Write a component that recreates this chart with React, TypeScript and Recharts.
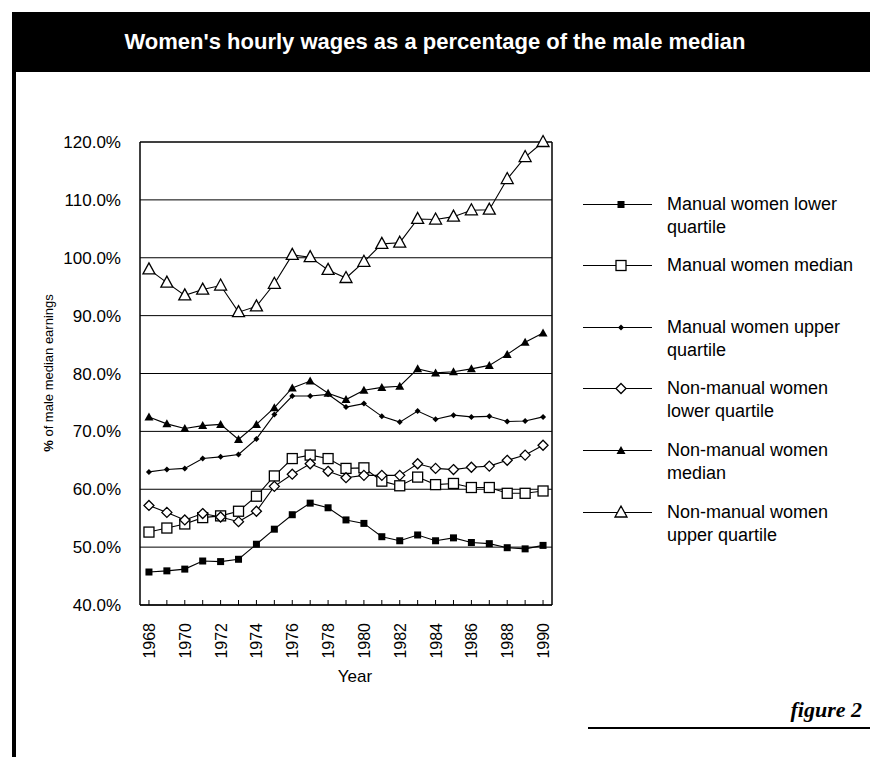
import { CartesianGrid, Line, LineChart, ReferenceLine, XAxis, YAxis } from "recharts";

const years = [
  1968, 1969, 1970, 1971, 1972, 1973, 1974, 1975, 1976, 1977, 1978, 1979, 1980, 1981, 1982, 1983,
  1984, 1985, 1986, 1987, 1988, 1989, 1990,
];
const manualLower = [
  45.7, 45.9, 46.2, 47.6, 47.5, 47.9, 50.5, 53.1, 55.6, 57.6, 56.8, 54.7, 54.1, 51.8, 51.1, 52.1,
  51.1, 51.6, 50.8, 50.6, 49.9, 49.7, 50.3,
];
const manualMedian = [
  52.6, 53.3, 54.0, 55.1, 55.4, 56.2, 58.8, 62.3, 65.3, 65.9, 65.3, 63.6, 63.7, 61.4, 60.6, 62.1,
  60.8, 61.0, 60.3, 60.3, 59.3, 59.3, 59.7,
];
const manualUpper = [
  63.0, 63.4, 63.6, 65.3, 65.6, 66.0, 68.7, 72.9, 76.1, 76.1, 76.4, 74.2, 74.8, 72.6, 71.6, 73.5,
  72.1, 72.8, 72.5, 72.6, 71.7, 71.8, 72.5,
];
const nonManualLower = [
  57.2, 56.0, 54.7, 55.8, 55.2, 54.4, 56.2, 60.5, 62.6, 64.4, 63.1, 62.0, 62.4, 62.4, 62.4, 64.4,
  63.6, 63.4, 63.8, 64.0, 65.0, 65.9, 67.6,
];
const nonManualMedian = [
  72.5, 71.3, 70.5, 71.0, 71.2, 68.6, 71.2, 74.1, 77.5, 78.7, 76.6, 75.5, 77.1, 77.6, 77.8, 80.8,
  80.1, 80.3, 80.8, 81.4, 83.3, 85.4, 87.0,
];
const nonManualUpper = [
  98.0, 95.7, 93.5, 94.5, 95.2, 90.6, 91.6, 95.5, 100.5, 100.1, 97.9, 96.5, 99.3, 102.4, 102.6,
  106.7, 106.6, 107.1, 108.2, 108.3, 113.6, 117.4, 120.0,
];
const yTicks = [40, 50, 60, 70, 80, 90, 100, 110, 120];

const FONT = '"Liberation Sans", Arial, sans-serif';

type MarkerKind = "filledSquare" | "openSquare" | "dot" | "openDiamond" | "filledTriangle" | "openTriangle";

const series: { key: string; label: string[]; marker: MarkerKind; values: number[] }[] = [
  { key: "ml", label: ["Manual women lower", "quartile"], marker: "filledSquare", values: manualLower },
  { key: "mm", label: ["Manual women median"], marker: "openSquare", values: manualMedian },
  { key: "mu", label: ["Manual women upper", "quartile"], marker: "dot", values: manualUpper },
  { key: "nl", label: ["Non-manual women", "lower quartile"], marker: "openDiamond", values: nonManualLower },
  { key: "nm", label: ["Non-manual women", "median"], marker: "filledTriangle", values: nonManualMedian },
  { key: "nu", label: ["Non-manual women", "upper quartile"], marker: "openTriangle", values: nonManualUpper },
];

const data = years.map((year, i) => {
  const row: Record<string, number> = { year };
  for (const s of series) row[s.key] = s.values[i];
  return row;
});

function Marker({ kind, cx, cy }: { kind: MarkerKind; cx: number; cy: number }) {
  switch (kind) {
    case "filledSquare":
      return <rect x={cx - 3.5} y={cy - 3.5} width={7} height={7} fill="#000" />;
    case "openSquare":
      return <rect x={cx - 5} y={cy - 5} width={10} height={10} fill="#fff" stroke="#000" strokeWidth={1.3} />;
    case "dot":
      return <path d={`M${cx},${cy - 3}L${cx + 3},${cy}L${cx},${cy + 3}L${cx - 3},${cy}Z`} fill="#000" />;
    case "openDiamond":
      return (
        <path
          d={`M${cx},${cy - 5}L${cx + 5},${cy}L${cx},${cy + 5}L${cx - 5},${cy}Z`}
          fill="#fff"
          stroke="#000"
          strokeWidth={1.3}
        />
      );
    case "filledTriangle":
      return <path d={`M${cx},${cy - 4.5}L${cx + 4.5},${cy + 3.5}L${cx - 4.5},${cy + 3.5}Z`} fill="#000" />;
    case "openTriangle":
      return (
        <path
          d={`M${cx},${cy - 6.5}L${cx + 6},${cy + 4.5}L${cx - 6},${cy + 4.5}Z`}
          fill="#fff"
          stroke="#000"
          strokeWidth={1.3}
        />
      );
  }
}

function YearTick({ x, y, payload }: any) {
  const year = payload.value as number;
  return (
    <g>
      <line x1={x} x2={x} y1={y} y2={y - 5} stroke="#000" strokeWidth={1} />
      {year % 2 === 0 && (
        <text
          transform={`translate(${x + 6},${y + 18}) rotate(-90)`}
          textAnchor="end"
          fontSize={16}
          fontFamily={FONT}
          fill="#000"
        >
          {year}
        </text>
      )}
    </g>
  );
}

function LegendItem({ label, marker, top }: { label: string[]; marker: MarkerKind; top: number }) {
  return (
    <div style={{ position: "absolute", left: 581, top: top - 11.5, display: "flex" }}>
      <svg width={80} height={23} style={{ flexShrink: 0 }}>
        <line x1={2} x2={71} y1={11.5} y2={11.5} stroke="#000" strokeWidth={1.2} />
        <Marker kind={marker} cx={40} cy={11.5} />
      </svg>
      <div style={{ marginLeft: 6, fontSize: 18, lineHeight: "23px" }}>
        {label.map((l) => (
          <div key={l}>{l}</div>
        ))}
      </div>
    </div>
  );
}

const legendTops = [204, 265.6, 327.2, 388.8, 450.4, 512];

export default function App() {
  return (
    <div
      style={{
        position: "absolute",
        left: 0,
        top: 0,
        width: 870,
        height: 757,
        background: "#fff",
        fontFamily: FONT,
        color: "#000",
        overflow: "hidden",
      }}
    >
      <div style={{ position: "absolute", left: 12, top: 12, width: 4, height: 745, background: "#000" }} />
      <div
        style={{
          position: "absolute",
          left: 12,
          top: 12,
          width: 846,
          paddingRight: 12,
          height: 60,
          background: "#000",
          color: "#fff",
          fontWeight: 700,
          fontSize: 22,
          display: "flex",
          alignItems: "center",
          justifyContent: "center",
        }}
      >
        Women's hourly wages as a percentage of the male median
      </div>

      <div style={{ position: "absolute", left: 0, top: 0 }}>
        <LineChart width={560} height={700} data={data} margin={{ top: 142, right: 8, left: 0, bottom: 35 }}>
          <CartesianGrid vertical={false} stroke="#000" strokeWidth={1} />
          <XAxis
            dataKey="year"
            type="number"
            domain={[1967.5, 1990.5]}
            ticks={years}
            interval={0}
            height={60}
            tickLine={false}
            tickSize={0}
            tickMargin={0}
            axisLine={{ stroke: "#000", strokeWidth: 1.5 }}
            tick={<YearTick />}
          />
          <YAxis
            type="number"
            domain={[40, 120]}
            ticks={yTicks}
            width={140}
            tickLine={false}
            tickSize={0}
            tickMargin={19}
            axisLine={{ stroke: "#000", strokeWidth: 1.5 }}
            tickFormatter={(v: number) => `${v.toFixed(1)}%`}
            tick={{ fill: "#000", fontSize: 17, fontFamily: FONT }}
          />
          <ReferenceLine x={1990.5} stroke="#000" strokeWidth={1.5} />
          <ReferenceLine y={120} stroke="#000" strokeWidth={1.2} />
          {series.map((s) => (
            <Line
              key={s.key}
              dataKey={s.key}
              type="linear"
              stroke="#000"
              strokeWidth={1.1}
              isAnimationActive={false}
              dot={(p: any) => <Marker key={`${s.key}-${p.index}`} kind={s.marker} cx={p.cx} cy={p.cy} />}
              activeDot={false}
            />
          ))}
        </LineChart>
      </div>

      <div
        style={{
          position: "absolute",
          left: 48,
          top: 373,
          transform: "translate(-50%, -50%) rotate(-90deg)",
          whiteSpace: "nowrap",
          fontSize: 13,
        }}
      >
        <b>%</b> of male median earnings
      </div>
      <div
        style={{
          position: "absolute",
          left: 355,
          top: 677,
          transform: "translate(-50%, -50%)",
          fontSize: 17,
        }}
      >
        Year
      </div>

      {series.map((s, i) => (
        <LegendItem key={s.key} label={s.label} marker={s.marker} top={legendTops[i]} />
      ))}

      <div
        style={{
          position: "absolute",
          right: 8,
          top: 697,
          fontFamily: '"Liberation Serif", serif',
          fontStyle: "italic",
          fontWeight: 700,
          fontSize: 22,
        }}
      >
        figure 2
      </div>
      <div style={{ position: "absolute", left: 588, top: 727, width: 282, height: 1.5, background: "#000" }} />
    </div>
  );
}
